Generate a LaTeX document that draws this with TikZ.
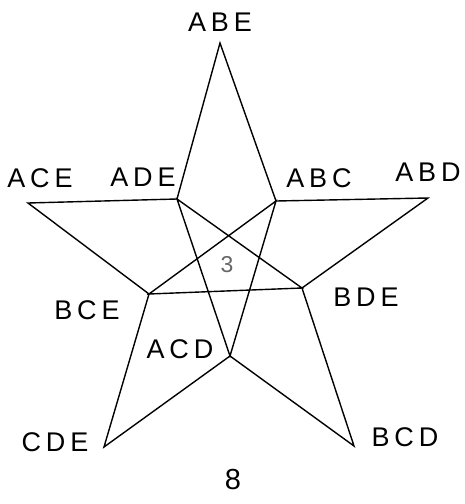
\documentclass[tikz,border=0pt]{standalone}
\usepackage{fontspec}
\setmainfont{Liberation Sans}
\usetikzlibrary{positioning}

\tikzset{
  lbl/.style={font=\fontsize{27}{30}\selectfont\addfontfeature{LetterSpace=18},
              inner sep=0pt, text=black},
  edge/.style={draw=black, line width=1.4pt, line join=miter}
}

\begin{document}
\begin{tikzpicture}[x=1pt, y=-1pt]
  \useasboundingbox (0,0) rectangle (465,504);
  % outer tips
  \coordinate (abe) at (220,43);
  \coordinate (abd) at (428,198);
  \coordinate (bcd) at (354,446);
  \coordinate (cde) at (104,447);
  \coordinate (ace) at (28,203);
  % inner corners
  \coordinate (ade) at (177,199);
  \coordinate (abc) at (276,201);
  \coordinate (bde) at (302,288);
  \coordinate (acd) at (230,356);
  \coordinate (bce) at (149,294);
  % star outline
  \draw[edge] (abe) -- (abc) -- (abd) -- (bde) -- (bcd) -- (acd)
    -- (cde) -- (bce) -- (ace) -- (ade) -- cycle;
  % inner pentagram
  \draw[edge] (ade) -- (bde) -- (bce) -- (abc) -- (acd) -- cycle;
  % labels
  \node[lbl] (labe) at (220,22) {ABE};
  \node[lbl] (lace) at (40,178) {ACE};
  \node[lbl] (lade) at (143,177) {ADE};
  \node[lbl] (labc) at (319,178) {ABC};
  \node[lbl] (labd) at (428,172) {ABD};
  \node[lbl] (lbce) at (87,310) {BCE};
  \node[lbl] (lbde) at (366,297) {BDE};
  \node[lbl] (lacd) at (180,349) {ACD};
  \node[lbl] (lcde) at (55,442) {CDE};
  \node[lbl] (lbcd) at (405,437) {BCD};
  \node[inner sep=0pt, font=\fontsize{23}{26}\selectfont, text=black!60] (three) at (227,265) {3};
  \node[inner sep=0pt, font=\fontsize{29}{32}\selectfont] (eight) at (233,480) {8};
\end{tikzpicture}
\end{document}
